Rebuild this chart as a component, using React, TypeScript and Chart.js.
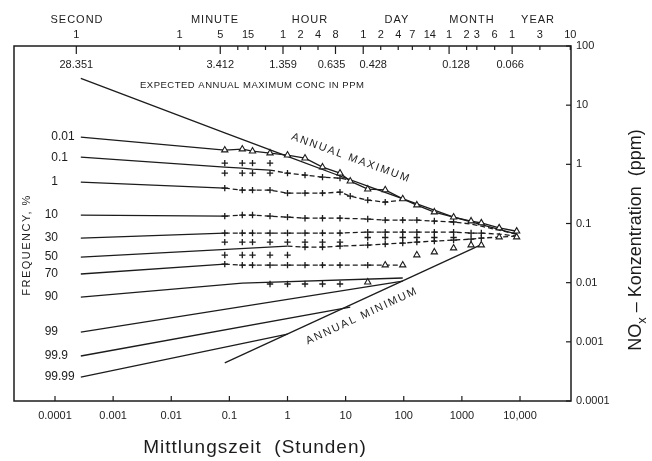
import React, { useEffect, useRef } from 'react';
import { Chart, registerables } from 'chart.js';

Chart.register(...registerables);

// ---------- data (hours on x, ppm on y) ----------
// expected annual maximum (values printed under the top axis)
const expHours = [0.000278, 0.0833, 1, 8, 24, 720, 8760];
const expPpm = [28.351, 3.412, 1.359, 0.635, 0.428, 0.128, 0.066];
const expLabels = ['28.351', '3.412', '1.359', '0.635', '0.428', '0.128', '0.066'];

// 0.01 % line continuing as observed annual maximum (triangles)
const maxHours = [0.000278, 0.0833, 0.1667, 0.25, 0.5, 1, 2, 4, 8, 12, 24, 48, 96, 168, 336, 720, 1440, 2160, 4380, 8760];
const maxPpm = [2.88, 1.74, 1.81, 1.67, 1.55, 1.43, 1.27, 0.9, 0.71, 0.52, 0.38, 0.37, 0.26, 0.205, 0.156, 0.128, 0.11, 0.102, 0.084, 0.074];

// observed annual minimum (triangles)
const minHours = [24, 48, 96, 168, 336, 720, 1440, 2160, 4380, 8760];
const minPpm = [0.0102, 0.0198, 0.0198, 0.0293, 0.0329, 0.0384, 0.0432, 0.0432, 0.0589, 0.0589];

// annual minimum line
const minLineHours = [0.0833, 2160];
const minLinePpm = [0.00044, 0.044];

// frequency lines
const f01Hours = [0.000278, 0.0833, 0.1667, 0.25, 0.5, 1, 2, 4, 8, 12];
const f01Ppm = [1.32, 0.897, 0.863, 0.83, 0.798, 0.71, 0.657, 0.608, 0.585, 0.541];

const f1Hours = [0.000278, 0.0833, 0.1667, 0.25, 0.5, 1, 2, 4, 8, 12, 24, 48, 96];
const f1Ppm = [0.5, 0.396, 0.366, 0.366, 0.366, 0.326, 0.326, 0.326, 0.339, 0.29, 0.248, 0.23, 0.25];

const hoursAll = [0.000278, 0.0833, 0.1667, 0.25, 0.5, 1, 2, 4, 8, 24, 48, 96, 168, 336, 720, 1440, 2160, 4380, 8760];
const f10Ppm = [0.139, 0.133, 0.139, 0.139, 0.133, 0.128, 0.123, 0.123, 0.123, 0.119, 0.114, 0.114, 0.114, 0.11, 0.106, 0.098, 0.09, 0.077, 0.066];
const f30Ppm = [0.0567, 0.0689, 0.0689, 0.0689, 0.0689, 0.0689, 0.0689, 0.0689, 0.0689, 0.0716, 0.0716, 0.0716, 0.0716, 0.0716, 0.0716, 0.0689, 0.0689, 0.0662, 0.0613];

const f50Hours = [0.000278, 1, 2, 4, 8, 24, 48, 96, 168, 336, 720, 1440, 2160, 4380, 8760];
const f50Ppm = [0.0271, 0.0415, 0.0399, 0.0399, 0.0415, 0.0432, 0.0449, 0.0467, 0.0485, 0.0504, 0.0524, 0.0545, 0.0567, 0.0589, 0.0613];

const f70Hours = [0.000278, 0.0833, 0.1667, 0.25, 0.5, 1, 2, 4, 8, 24, 48, 96];
const f70Ppm = [0.014, 0.0206, 0.0198, 0.0198, 0.0198, 0.0198, 0.0198, 0.0198, 0.0198, 0.0198, 0.0198, 0.0198];

const f90Hours = [0.000278, 0.1667, 96];
const f90Ppm = [0.00571, 0.00984, 0.012];
const f90MarkHours = [0.5, 1, 2, 4, 8];
const f90MarkPpm = [0.0095, 0.0095, 0.0095, 0.0095, 0.0095];

const f99Hours = [0.000278, 96];
const f99Ppm = [0.00146, 0.0106];
const f999Hours = [0.000278, 12];
const f999Ppm = [0.000576, 0.00387];
const f9999Hours = [0.000278, 1];
const f9999Ppm = [0.000254, 0.00135];

// extra rows of "+" marks
const rowAHours = [0.0833, 0.1667, 0.25, 0.5];
const row01Upper = [1.05, 1.05, 1.05, 1.05];
const row01Lower = [0.71, 0.71, 0.71, 0.71];
const rowBHours = [0.0833, 0.1667, 0.25, 0.5, 1, 2, 4, 8];
const row30Lower = [0.0485, 0.0485, 0.0485, 0.0485, 0.0485, 0.0485, 0.0485, 0.0485];
const rowCHours = [0.0833, 0.1667, 0.25, 0.5, 1];
const row50Upper = [0.0293, 0.0293, 0.0293, 0.0293, 0.0293];
const rowDHours = [24, 48, 96, 168, 336, 720];
const rowCluster = [0.058, 0.058, 0.058, 0.058, 0.058, 0.058];

// labels / ticks
const freqLabels = ['0.01', '0.1', '1', '10', '30', '50', '70', '90', '99', '99.9', '99.99'];
const freqStartPpm = [maxPpm[0], f01Ppm[0], f1Ppm[0], f10Ppm[0], f30Ppm[0], f50Ppm[0], f70Ppm[0], f90Ppm[0], f99Ppm[0], f999Ppm[0], f9999Ppm[0]];

const topTickHours = [0.000278, 0.01667, 0.0833, 0.1667, 0.25, 0.5, 1, 2, 4, 8, 24, 48, 96, 168, 336, 720, 1440, 2160, 4380, 8760, 26280, 87600];
const topTickLabels = ['1', '1', '5', '', '15', '', '1', '2', '4', '8', '1', '2', '4', '7', '14', '1', '2', '3', '6', '1', '3', '10'];
const topUnits = ['SECOND', 'MINUTE', 'HOUR', 'DAY', 'MONTH', 'YEAR'];
const topUnitHours = [0.000286, 0.0676, 2.9, 91, 1786, 24400];

const bottomTicks = [0.0001, 0.001, 0.01, 0.1, 1, 10, 100, 1000, 10000];
const bottomLabels = ['0.0001', '0.001', '0.01', '0.1', '1', '10', '100', '1000', '10,000'];
const rightTicks = [100, 10, 1, 0.1, 0.01, 0.001, 0.0001];
const rightLabels = ['100', '10', '1', '0.1', '0.01', '0.001', '0.0001'];

// horizontal nudge (px) of the printed expected values so crowded labels do not collide
const expLabelNudge = [0, 0, 0, -4, 10, 7, -2];

// ---------- helpers ----------
const INK = '#1c1c1c';
const FONT = '"Liberation Sans", Arial, sans-serif';
const pts = (h: number[], v: number[]) => h.map((x, i) => ({ x, y: v[i] }));

function lineDs(hours: number[], ppm: number[], o: { dashFrom?: number; markFrom?: number; markTo?: number } = {}) {
  const dashFrom = o.dashFrom ?? 999;
  const markFrom = o.markFrom ?? 999;
  const markTo = o.markTo ?? 999;
  return {
    data: pts(hours, ppm),
    borderColor: INK,
    borderWidth: 1.3,
    showLine: true,
    pointStyle: 'cross',
    pointBorderColor: INK,
    pointBorderWidth: 1.3,
    pointRadius: (c: any) => (c.dataIndex >= markFrom && c.dataIndex <= markTo ? 3.2 : 0),
    segment: { borderDash: (c: any) => (c.p0DataIndex >= dashFrom ? [5, 3] : undefined) },
  };
}

function markDs(hours: number[], ppm: number[]) {
  return {
    data: pts(hours, ppm),
    showLine: false,
    pointStyle: 'cross',
    pointBorderColor: INK,
    pointBorderWidth: 1.3,
    pointRadius: 3.2,
  };
}

function triDs(hours: number[], ppm: number[], showLine: boolean, firstHidden: boolean) {
  return {
    data: pts(hours, ppm),
    showLine,
    borderColor: INK,
    borderWidth: 1.3,
    pointStyle: 'triangle',
    pointBackgroundColor: '#ffffff',
    pointBorderColor: INK,
    pointBorderWidth: 1.1,
    pointRadius: (c: any) => (firstHidden && c.dataIndex === 0 ? 0 : 3.6),
  };
}

function txt(ctx: CanvasRenderingContext2D, s: string, x: number, y: number, size: number, align: CanvasTextAlign = 'center', spacing = 0) {
  ctx.font = `${size}px ${FONT}`;
  ctx.textAlign = align;
  ctx.textBaseline = 'middle';
  (ctx as any).letterSpacing = spacing + 'px';
  ctx.fillText(s, x, y);
  (ctx as any).letterSpacing = '0px';
}

function seg(ctx: CanvasRenderingContext2D, x1: number, y1: number, x2: number, y2: number) {
  ctx.beginPath();
  ctx.moveTo(x1, y1);
  ctx.lineTo(x2, y2);
  ctx.stroke();
}

const decoPlugin = {
  id: 'deco',
  afterDraw(chart: any) {
    const { ctx, chartArea: a } = chart;
    const sx = chart.scales.x;
    const st = chart.scales.xTop;
    const sy = chart.scales.y;
    ctx.save();
    ctx.strokeStyle = INK;
    ctx.fillStyle = INK;
    ctx.setLineDash([]);
    ctx.lineWidth = 1.5;
    ctx.strokeRect(a.left, a.top, a.right - a.left, a.bottom - a.top);
    ctx.lineWidth = 1.2;

    bottomTicks.forEach((v, i) => {
      const px = sx.getPixelForValue(v);
      seg(ctx, px, a.bottom, px, a.bottom - 5);
      txt(ctx, bottomLabels[i], px, a.bottom + 15, 11);
    });
    rightTicks.forEach((v, i) => {
      const py = sy.getPixelForValue(v);
      seg(ctx, a.right, py, a.right - 5, py);
      txt(ctx, rightLabels[i], a.right + 5, py, 11, 'left');
    });
    topTickHours.forEach((h, i) => {
      const px = st.getPixelForValue(h);
      const long = expHours.includes(h);
      seg(ctx, px, a.top, px, a.top + (long ? 8 : 4));
      if (topTickLabels[i]) txt(ctx, topTickLabels[i], px, a.top - 11, 11);
    });
    expHours.forEach((h, i) => txt(ctx, expLabels[i], st.getPixelForValue(h) + expLabelNudge[i], a.top + 19, 11));
    topUnits.forEach((u, i) => txt(ctx, u, st.getPixelForValue(topUnitHours[i]), a.top - 26, 11, 'center', 1));
    txt(ctx, 'EXPECTED ANNUAL MAXIMUM CONC IN PPM', 140, a.top + 39, 9.5, 'left', 0.5);

    // frequency labels, decimal-aligned
    freqLabels.forEach((l, i) => {
      const py = sy.getPixelForValue(freqStartPpm[i]);
      const k = l.indexOf('.');
      const ip = k < 0 ? l : l.slice(0, k);
      const fp = k < 0 ? '' : l.slice(k);
      txt(ctx, ip, 58, py, 12, 'right');
      if (fp) txt(ctx, fp, 58, py, 12, 'left');
    });

    // FREQUENCY, %
    ctx.save();
    ctx.translate(27, 245);
    ctx.rotate(-Math.PI / 2);
    txt(ctx, 'FREQUENCY, %', 0, 0, 11, 'center', 1.5);
    ctx.restore();

    // ANNUAL MAXIMUM / MINIMUM
    ctx.save();
    ctx.translate(351, 158);
    ctx.rotate((20 * Math.PI) / 180);
    txt(ctx, 'ANNUAL MAXIMUM', 0, 0, 11, 'center', 1.8);
    ctx.restore();
    ctx.save();
    ctx.translate(362, 316);
    ctx.rotate((-25 * Math.PI) / 180);
    txt(ctx, 'ANNUAL MINIMUM', 0, 0, 11, 'center', 1.8);
    ctx.restore();

    // right axis title
    ctx.save();
    ctx.translate(636, 240);
    ctx.rotate(-Math.PI / 2);
    ctx.font = `18px ${FONT}`;
    const p1 = 'NO';
    const p3 = ' \u2013 Konzentration  (ppm)';
    const w1 = ctx.measureText(p1).width;
    const w3 = ctx.measureText(p3).width;
    ctx.font = `13px ${FONT}`;
    const w2 = ctx.measureText('x').width;
    const total = w1 + w2 + w3;
    let cx = -total / 2;
    txt(ctx, p1, cx, 0, 18, 'left');
    cx += w1;
    txt(ctx, 'x', cx, 6, 13, 'left');
    cx += w2;
    txt(ctx, p3, cx, 0, 18, 'left');
    ctx.restore();

    // bottom title
    txt(ctx, 'Mittlungszeit  (Stunden)', 255, 448, 19, 'center', 1);
    ctx.restore();
  },
};

export default function App() {
  const ref = useRef<HTMLCanvasElement>(null);
  useEffect(() => {
    const datasets: any[] = [
      triDs(maxHours, maxPpm, true, true),
      triDs(minHours, minPpm, false, false),
      lineDs(expHours, expPpm),
      lineDs(minLineHours, minLinePpm),
      lineDs(f01Hours, f01Ppm, { dashFrom: 4, markFrom: 5, markTo: 8 }),
      lineDs(f1Hours, f1Ppm, { dashFrom: 1, markFrom: 1, markTo: 11 }),
      lineDs(hoursAll, f10Ppm, { dashFrom: 1, markFrom: 1, markTo: 14 }),
      lineDs(hoursAll, f30Ppm, { dashFrom: 1, markFrom: 1, markTo: 16 }),
      lineDs(f50Hours, f50Ppm, { dashFrom: 1, markFrom: 2, markTo: 12 }),
      lineDs(f70Hours, f70Ppm, { dashFrom: 1, markFrom: 1, markTo: 9 }),
      lineDs(f90Hours, f90Ppm),
      lineDs(f99Hours, f99Ppm),
      lineDs(f999Hours, f999Ppm),
      lineDs(f9999Hours, f9999Ppm),
      markDs(f90MarkHours, f90MarkPpm),
      markDs(rowAHours, row01Upper),
      markDs(rowAHours, row01Lower),
      markDs(rowBHours, row30Lower),
      markDs(rowCHours, row50Upper),
      markDs(rowDHours, rowCluster),
    ];
    const chart = new Chart(ref.current!, {
      type: 'line',
      data: { datasets },
      options: {
        animation: false,
        responsive: false,
        events: [],
        layout: { padding: { left: 14, top: 46, right: 81, bottom: 60 } },
        plugins: { legend: { display: false }, tooltip: { enabled: false }, title: { display: false } },
        elements: { line: { tension: 0 } },
        scales: {
          x: { type: 'logarithmic', position: 'bottom', min: 1.97e-5, max: 75400, display: false },
          xTop: { type: 'logarithmic', axis: 'x', position: 'top', min: 2.355e-5, max: 90130, display: false },
          y: { type: 'logarithmic', position: 'right', min: 0.0001, max: 100, display: false },
        },
      } as any,
      plugins: [decoPlugin],
    });
    return () => chart.destroy();
  }, []);
  return (
    <div style={{ position: 'absolute', left: 0, top: 0, width: 652, height: 461, background: '#fff' }}>
      <canvas ref={ref} width={652} height={461} style={{ width: 652, height: 461, display: 'block' }} />
    </div>
  );
}
